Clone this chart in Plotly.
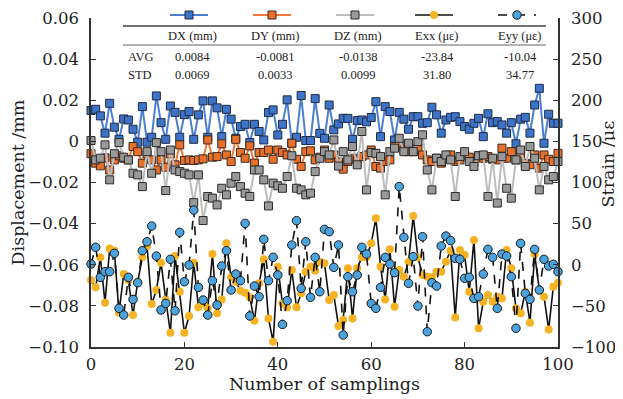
import plotly.graph_objects as go

samples = list(range(101))

DX = [0.0150, 0.0156, 0.0124, 0.0040, 0.0185, 0.0069, 0.0010, 0.0109, 0.0104, 0.0059,
      -0.0004, 0.0169, -0.0004, 0.0020, 0.0221, 0.0091, 0.0010, 0.0172, 0.0141, 0.0020,
      0.0130, 0.0145, 0.0010, 0.0129, 0.0197, 0.0020, 0.0197, 0.0163, 0.0023, 0.0156,
      0.0108, 0.0015, 0.0072, 0.0083, -0.0006, 0.0083, 0.0048, 0.0007, 0.0140, 0.0153,
      0.0031, 0.0083, 0.0202, -0.0009, 0.0020, 0.0223, 0.0004, 0.0004, 0.0208, 0.0039,
      0.0015, 0.0177, 0.0056, 0.0085, 0.0112, 0.0112, 0.0010, 0.0101, 0.0104, 0.0095,
      0.0116, 0.0193, 0.0023, 0.0169, 0.0145, 0.0007, 0.0141, 0.0108, 0.0059, 0.0120,
      0.0120, 0.0088, 0.0091, 0.0166, 0.0129, 0.0040, 0.0104, 0.0117, 0.0120, 0.0096,
      0.0072, 0.0059, 0.0088, 0.0112, 0.0023, 0.0134, 0.0091, 0.0096, 0.0080, 0.0040,
      0.0091, -0.0012, 0.0108, 0.0117, 0.0040, 0.0177, 0.0258, -0.0009, 0.0132, 0.0088,
      0.0088]

DY = [-0.0060, -0.0106, -0.0119, -0.0080, -0.0139, -0.0090, -0.0070, -0.0082, -0.0090, -0.0025,
      -0.0050, -0.0106, -0.0061, -0.0090, -0.0139, -0.0090, -0.0126, -0.0061, -0.0114, -0.0017,
      -0.0093, -0.0090, -0.0093, -0.0090, -0.0085, 0.0007, -0.0077, -0.0074, -0.0012, -0.0066,
      -0.0098, 0.0010, -0.0054, -0.0082, -0.0022, -0.0106, -0.0054, -0.0054, -0.0042, -0.0087,
      -0.0042, -0.0054, -0.0066, -0.0009, -0.0087, -0.0122, -0.0050, -0.0046, -0.0090, -0.0077,
      -0.0042, -0.0082, -0.0066, -0.0100, -0.0135, -0.0098, -0.0082, -0.0090, -0.0074, -0.0066,
      -0.0042, -0.0122, -0.0130, -0.0098, -0.0090, -0.0025, -0.0017, -0.0042, -0.0050, -0.0050,
      -0.0033, -0.0066, -0.0090, -0.0098, -0.0082, -0.0106, -0.0082, -0.0066, -0.0098, -0.0090,
      -0.0066, -0.0077, -0.0098, -0.0070, -0.0082, -0.0074, -0.0087, -0.0090, -0.0033, -0.0082,
      -0.0050, -0.0090, -0.0061, -0.0106, -0.0114, -0.0066, -0.0130, -0.0066, -0.0087, -0.0098,
      -0.0058]

DZ = [0.0004, -0.0090, -0.0082, -0.0017, -0.0187, -0.0060, -0.0006, -0.0077, -0.0090, -0.0155,
      -0.0163, -0.0220, -0.0050, -0.0155, -0.0006, -0.0050, -0.0239, -0.0042, -0.0139, -0.0147,
      -0.0155, -0.0163, -0.0298, -0.0163, -0.0385, -0.0268, -0.0276, -0.0309, -0.0228, -0.0260,
      -0.0203, -0.0171, -0.0220, -0.0252, -0.0268, -0.0139, -0.0139, -0.0187, -0.0314, -0.0203,
      -0.0216, -0.0228, -0.0171, -0.0070, -0.0228, -0.0236, -0.0260, -0.0252, -0.0147, -0.0082,
      -0.0050, -0.0066, 0.0007, -0.0120, -0.0050, -0.0090, -0.0025, -0.0114, 0.0048, -0.0236,
      -0.0054, -0.0058, -0.0074, -0.0260, -0.0050, -0.0033, 0.0015, -0.0050, -0.0009, -0.0050,
      -0.0001, 0.0032, -0.0139, -0.0236, -0.0082, -0.0098, -0.0066, -0.0090, -0.0268, -0.0074,
      -0.0050, -0.0098, -0.0122, -0.0070, -0.0066, -0.0268, -0.0082, -0.0300, -0.0074, -0.0228,
      -0.0276, -0.0090, -0.0042, -0.0122, -0.0025, -0.0082, -0.0236, -0.0122, -0.0187, -0.0171,
      -0.0098]

EXX = [-18.6, -27.5, 9.0, -46.1, 19.9, 17.1, -58.3, -11.3, -18.6, -61.1,
       -20.6, 9.0, 22.8, -47.8, -30.7, 2.5, -42.1, -82.6, 10.6, -32.8,
       -82.6, -62.3, 2.5, -51.8, -47.0, -53.0, 13.0, -59.1, -42.1, 26.0,
       -15.3, -20.6, -31.5, -34.0, -39.6, -68.0, -22.6, 6.6, -65.2, -93.5,
       -2.4, -47.0, -51.8, -6.4, -51.8, -34.8, -8.4, -2.4, -7.2, 3.7,
       1.7, -42.9, -36.8, -74.5, -67.2, -4.4, -65.2, -4.4, 9.0, 9.0,
       26.0, 56.4, -2.4, -42.1, 18.7, -51.0, -6.4, -14.5, 3.7, 59.2,
       9.0, -12.5, -14.5, -15.3, -8.4, -8.4, 3.7, 17.1, -64.0, 17.9,
       11.8, -32.8, 30.1, -77.3, -44.9, -36.8, -44.9, -38.8, -40.9, 17.9,
       -4.4, -53.0, -59.1, -32.8, -70.5, 13.0, -30.7, -38.8, -78.6, -26.7,
       -21.8]

EYY = [1.0, 21.2, -15.3, -8.4, -8.4, 13.9, -53.0, -61.1, -15.3, -42.1,
       -21.8, 17.1, 28.0, 47.1, 10.6, -55.0, -47.0, 6.6, -55.9, 39.4,
       -20.6, -0.3, 66.5, -27.5, -42.9, -61.1, -19.4, -49.0, -1.5, 17.1,
       -30.7, -11.3, -19.4, 50.3, -62.3, -25.9, -38.8, 30.9, -19.4, 9.0,
       -12.5, -72.5, -43.7, 24.0, 53.6, -28.7, 28.0, -39.6, 9.0, -32.8,
       43.0, 40.2, -3.2, 24.0, -85.4, -14.5, -32.8, -12.5, 21.2, 13.0,
       -47.0, -53.0, -27.5, 9.0, 0.9, -9.7, 95.0, 33.3, -22.6, 9.8,
       -50.2, 34.1, -81.4, -21.8, -25.9, 22.8, 34.9, 29.3, 7.8, 6.6,
       -16.5, -15.3, -40.9, -38.8, -11.3, 18.7, 9.0, -53.0, 13.0, 10.6,
       -14.5, -77.3, 26.0, -34.8, -42.1, 18.7, -30.7, 6.6, -1.5, 0.5,
       -8.4]

series_names = ["DX (mm)", "DY (mm)", "DZ (mm)", "Exx (\u03bc\u03b5)", "Eyy (\u03bc\u03b5)"]
avg_text = ["0.0084", "-0.0081", "-0.0138", "-23.84", "-10.04"]
std_text = ["0.0069", "0.0033", "0.0099", "31.80", "34.77"]

left_ticks = [0.06, 0.04, 0.02, 0, -0.02, -0.04, -0.06, -0.08, -0.10]
left_labels = ["0.06", "0.04", "0.02", "0", "\u22120.02", "\u22120.04", "\u22120.06", "\u22120.08", "\u22120.10"]
right_ticks = [300, 250, 200, 150, 100, 50, 0, -50, -100]
right_labels = ["300", "250", "200", "150", "100", "50", "0", "\u221250", "\u2212100"]
x_ticks = [0, 20, 40, 60, 80, 100]

styles = [
    dict(line=dict(color="#4A7FD3", width=2), marker=dict(symbol="square", size=8, color="#3E74C8", line=dict(color="#1E2B45", width=1))),
    dict(line=dict(color="#F07A35", width=2), marker=dict(symbol="square", size=8, color="#E8702A", line=dict(color="#3A2A20", width=1))),
    dict(line=dict(color="#BDBDBD", width=2), marker=dict(symbol="square", size=8, color="#999999", line=dict(color="#2A2A2A", width=1))),
    dict(line=dict(color="#111111", width=1.6), marker=dict(symbol="circle", size=8, color="#F5B223", line=dict(color="#F5B223", width=0))),
    dict(line=dict(color="#111111", width=1.6, dash="dash"), marker=dict(symbol="circle", size=8.5, color="#4BA3DD", line=dict(color="#1A1A1A", width=1))),
]

SERIF = "DejaVu Serif"
TABF = "Liberation Serif"

fig = go.Figure()
data = [(DX, "y"), (DY, "y"), (DZ, "y"), (EXX, "y2"), (EYY, "y2")]
for (vals, ax), st, nm in zip(data, styles, series_names):
    fig.add_trace(go.Scatter(x=samples, y=vals, yaxis=ax, mode="lines+markers", name=nm,
                             line=st["line"], marker=st["marker"], cliponaxis=False,
                             showlegend=False))

# table / legend block, placed in page pixel coordinates on an invisible overlay axis
col_x = [189, 272, 355, 434, 517]
for cx, st, nm in zip(col_x, styles, series_names):
    fig.add_trace(go.Scatter(x=[cx - 19, cx + 19], y=[15, 15], xaxis="x3", yaxis="y3",
                             mode="lines", line=st["line"], showlegend=False, hoverinfo="skip",
                             cliponaxis=False))
    fig.add_trace(go.Scatter(x=[cx], y=[15], xaxis="x3", yaxis="y3", mode="markers",
                             marker=st["marker"], showlegend=False, hoverinfo="skip",
                             cliponaxis=False))

annotations = []
tfont = dict(family=TABF, size=12.5, color="#222")
for cx, nm, a, s in zip(col_x, series_names, avg_text, std_text):
    annotations.append(dict(x=cx + 3, y=36, xref="x3", yref="y3", text=nm, showarrow=False, font=tfont))
    annotations.append(dict(x=cx + 3, y=57, xref="x3", yref="y3", text=a, showarrow=False, font=tfont))
    annotations.append(dict(x=cx + 3, y=75, xref="x3", yref="y3", text=s, showarrow=False, font=tfont))
for lab, yy in [("AVG", 57), ("STD", 75)]:
    annotations.append(dict(x=140, y=yy, xref="x3", yref="y3", text=lab, showarrow=False, font=tfont))

title_font = dict(family=SERIF, size=17.5, color="#222")
# right axis title (placed as rotated annotation so it stays inside the window)
annotations.append(dict(x=1.108, y=0.54, xref="paper", yref="paper", text="Strain /\u03bc\u03b5",
                        textangle=-90, showarrow=False, xanchor="center", yanchor="middle",
                        font=title_font))

shapes = [
    dict(type="line", xref="x3", yref="y3", x0=123, x1=546, y0=26, y1=26, line=dict(color="#444", width=1.5)),
    dict(type="line", xref="x3", yref="y3", x0=123, x1=546, y0=45, y1=45, line=dict(color="#666", width=1.2)),
]

axis_common = dict(showline=True, linecolor="#333", linewidth=1.5, ticks="inside", ticklen=5,
                   tickcolor="#333", tickwidth=1.2, showgrid=False, zeroline=False, automargin=False,
                   tickfont=dict(family=SERIF, size=16.5, color="#222"))

# the page body adds an 8px offset, so the figure is 8px smaller than the window
W, H = 615, 391
fig.update_layout(
    width=W, height=H,
    margin=dict(l=83, r=65, t=0, b=52),
    paper_bgcolor="white", plot_bgcolor="rgba(0,0,0,0)",
    xaxis=dict(range=[0, 100], tickvals=x_ticks, domain=[0, 1], anchor="y", ticklabelstandoff=1,
               title=dict(text="Number of samplings", font=title_font, standoff=0),
               **axis_common),
    yaxis=dict(range=[-0.10, 0.06], tickvals=left_ticks, ticktext=left_labels, domain=[0, 329 / 339],
               ticklabelstandoff=7,
               title=dict(text="Displacement /mm", font=title_font, standoff=8),
               **axis_common),
    yaxis2=dict(range=[-100, 300], tickvals=right_ticks, ticktext=right_labels, overlaying="y", side="right",
                anchor="x", ticklabelstandoff=8,
                **axis_common),
    xaxis3=dict(domain=[0, 1], range=[91, 558], anchor="y3", visible=False, fixedrange=True),
    yaxis3=dict(domain=[0, 1], range=[347, 8], anchor="x3", visible=False, fixedrange=True),
    annotations=annotations, shapes=shapes,
)

fig.write_html("out.html")
